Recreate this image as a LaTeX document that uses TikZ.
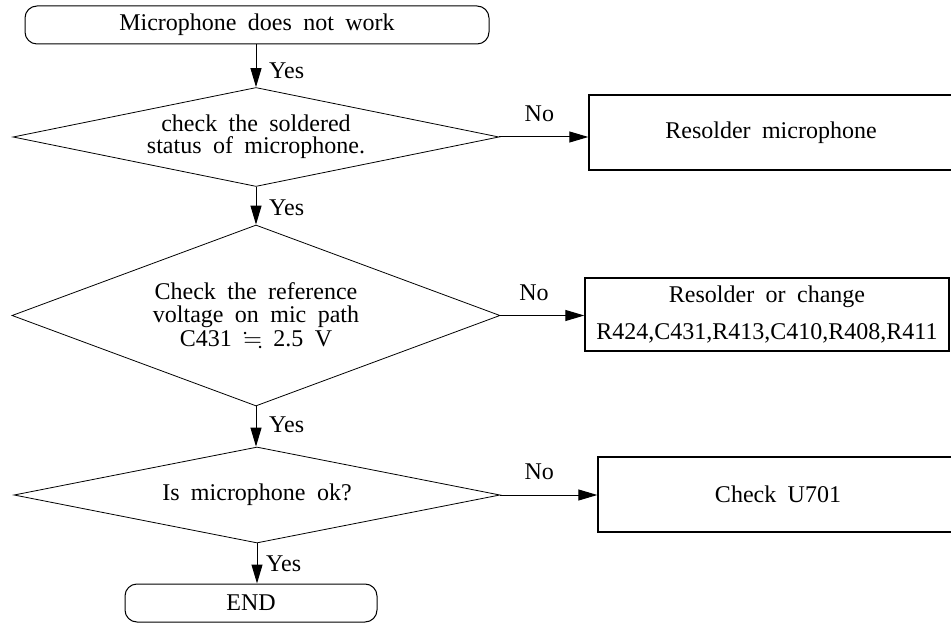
\documentclass[tikz,border=0pt]{standalone}
\usepackage{amssymb}
\usepackage{fontspec}
\setmainfont{Liberation Serif}[WordSpace=1.9]
\usetikzlibrary{shapes.geometric,arrows.meta,positioning}
\tikzset{
  term/.style={rectangle,draw,rounded corners=6pt,line width=0.5pt,minimum width=232pt,minimum height=19pt},
  decision/.style={diamond,draw,line width=0.4pt,align=center,inner sep=0pt},
  action/.style={rectangle,draw,line width=0.7pt,align=center,minimum width=182pt,minimum height=37.5pt},
  flow/.style={-{Triangle[length=9.5pt,width=5.5pt]},line width=0.5pt}
}

\begin{document}
\begin{tikzpicture}[x=0.5pt,y=-0.5pt,font=\fontsize{12}{11}\selectfont]
    \clip (0,0) rectangle (951,624);
    %
    % -- Terminals and decisions down the left
    \node[term] (start) at (257,25) {Microphone does not work};
    \node[decision,aspect=4.9,minimum width=243pt,minimum height=49.5pt] (solder) at (256,137)
      {check the soldered\\status of microphone.};
    \node[decision,aspect=2.7,minimum width=244pt,minimum height=90.5pt,
          font=\fontsize{12}{11.8}\selectfont] (refv) at (256,315.5)
      {Check the reference\\voltage on mic path\\C431 $\fallingdotseq$ 2.5 V};
    \node[decision,aspect=5,minimum width=243pt,minimum height=48pt] (micok) at (257,495)
      {Is microphone ok?};
    \node[term,minimum width=126pt] (end) at (251,603) {END};

    % -- Actions on the right
    \node[action] (resolder) at (771,132.5) {Resolder microphone};
    \node[action,minimum height=36.5pt] (change) at (767,314.5)
      {Resolder or change\\[7.5pt]R424,C431,R413,C410,R408,R411};
    \node[action,minimum width=180pt] (u701) at (778,494.5) {Check U701};

    % -- Yes path
    \draw[flow] (start.south -| solder.north) -- (solder.north) node[pos=0.62,right=3pt] {Yes};
    \draw[flow] (solder.south) -- (refv.north) node[pos=0.55,right=3pt] {Yes};
    \draw[flow] (refv.south) -- (refv.south |- micok.north) node[pos=0.45,right=3pt] {Yes};
    \draw[flow] (micok.south) -- (micok.south |- end.north) node[pos=0.5,right=1pt] {Yes};

    % -- No branches
    \draw[flow] (solder.east) -- (solder.east -| resolder.west) node[pos=0.45,above=4pt] {No};
    \draw[flow] (refv.east) -- (refv.east -| change.west) node[pos=0.4,above=4pt] {No};
    \draw[flow] (micok.east) -- (micok.east -| u701.west) node[pos=0.4,above=4pt] {No};
\end{tikzpicture}
\end{document}
